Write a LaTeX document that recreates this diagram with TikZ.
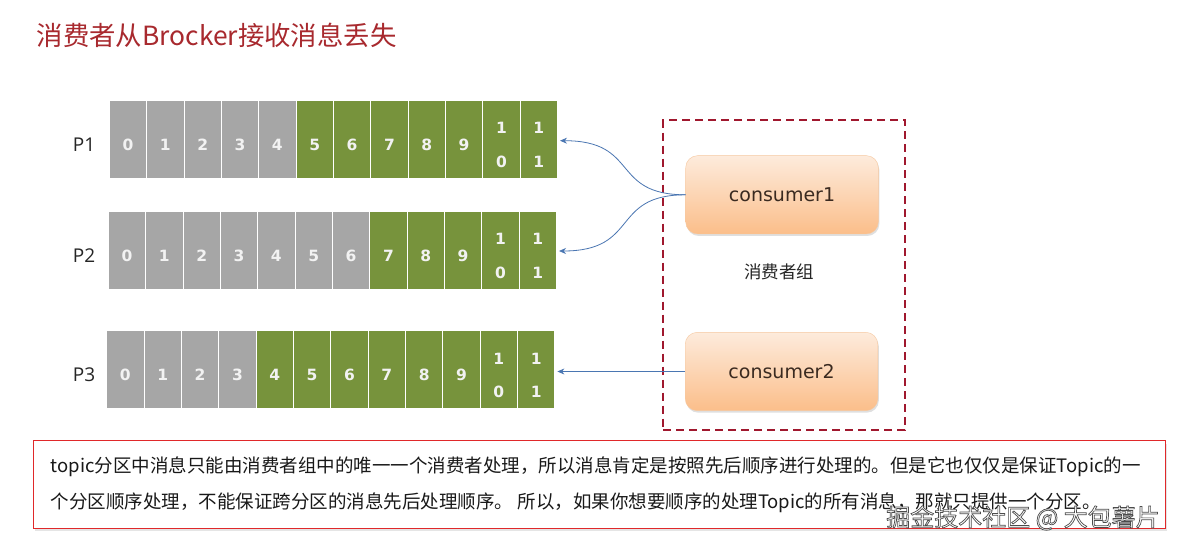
\documentclass[tikz,border=0pt]{standalone}
\usepackage{fontspec}
\setmainfont{Open Sans}
\newfontfamily\cjk{Noto Sans CJK SC}
\newfontfamily\dejavu{DejaVu Sans}
\usetikzlibrary{shadows,arrows.meta}

\definecolor{cellgray}{HTML}{A6A6A6}
\definecolor{cellgreen}{HTML}{77933C}
\definecolor{titlered}{HTML}{A8292E}
\definecolor{grpred}{HTML}{A0182E}
\definecolor{arrowblue}{HTML}{4A76B2}
\definecolor{boxtop}{HTML}{FDEBDC}
\definecolor{boxbot}{HTML}{FBBE8A}
\definecolor{boxline}{HTML}{F6C8A0}
\definecolor{notered}{HTML}{E0282A}
\definecolor{constext}{HTML}{3A2A20}

\begin{document}
\begin{tikzpicture}[x=1pt,y=-1pt,
  cell/.style={draw=white, line width=1pt, minimum width=37.35pt, minimum height=77.6pt, inner sep=0pt},
  oldcell/.style={cell, fill=cellgray},
  newcell/.style={cell, fill=cellgreen},
  digit/.style={inner sep=0pt, text=white!95!black, font=\dejavu\bfseries\fontsize{15.5}{15.5}\selectfont},
  plabel/.style={inner sep=0pt, font=\fontsize{19}{19}\selectfont, text=black!85},
  consumer/.style={rounded corners=12pt, draw=boxline, top color=boxtop, bottom color=boxbot,
    minimum width=192.6pt, minimum height=78.3pt, font=\dejavu\fontsize{19}{19}\selectfont,
    text=constext, drop shadow={opacity=0.25, shadow xshift=1pt, shadow yshift=-2pt}},
  link/.style={draw=arrowblue, line width=0.8pt, -{Stealth[length=7pt,width=6pt]}},
  group/.style={draw=grpred, line width=2pt, dash pattern=on 8pt off 5pt,
    minimum width=241.7pt, minimum height=310pt, inner sep=0pt},
  notebox/.style={draw=notered, line width=0.9pt, fill=white, minimum width=1131.7pt,
    minimum height=87.6pt, inner sep=0pt,
    drop shadow={opacity=0.2, shadow xshift=2pt, shadow yshift=-3pt}},
  notetext/.style={anchor=west, inner sep=0pt, text=black!90, font=\cjk\fontsize{18.5}{18.5}\selectfont},
  wm/.style={inner sep=0pt, text=white, font=\cjk\fontsize{24}{24}\selectfont},
]
\useasboundingbox (0,0) rectangle (1185,548);
\fill[white] (0,0) rectangle (1185,548);

% title
\node[anchor=west, inner sep=0pt, text=titlered, font=\cjk\fontsize{26.4}{26.4}\selectfont] (title) at (36.5,35) {消费者从Brocker接收消息丢失};

% partitions
\foreach \row/\x/\y/\g in {1/109.3/139.5/5, 2/108.3/250.5/7, 3/106.7/369.7/4} {
  \node[plabel] (p\row) at (84,\y+5.5) {P\row};
  \foreach \i in {0,...,11} {
    \ifnum\i<\g \def\st{oldcell}\else\def\st{newcell}\fi
    \node[\st] (c\row-\i) at ({\x+(\i+0.5)*37.35},\y) {};
  }
  \foreach \i in {0,...,9} {
    \node[digit] (d\row-\i) at ([yshift=-5.5pt]c\row-\i.center) {\i};
  }
  \node[digit] (d\row-10a) at ([yshift=11.2pt]c\row-10.center) {1};
  \node[digit] (d\row-10b) at ([yshift=-22.2pt]c\row-10.center) {0};
  \node[digit] (d\row-11a) at ([yshift=11.2pt]c\row-11.center) {1};
  \node[digit] (d\row-11b) at ([yshift=-22.2pt]c\row-11.center) {1};
}

% consumer group
\node[group] (grp) at (784.2,275) {};
\node[consumer] (cons1) at (782,194.8) {consumer1};
\node[consumer] (cons2) at (781.5,371.5) {consumer2};
\node[inner sep=0pt, text=black!85, font=\cjk\fontsize{17.5}{17.5}\selectfont] (grplabel) at (779,271.7) {消费者组};

% connectors
\draw[link] (cons1.west) .. controls (610,194.8) and (640,140.7) .. ([xshift=2pt]c1-11.east |- 0,140.7);
\draw[link] (cons1.west) .. controls (610,194.8) and (640,251) .. ([xshift=2pt]c2-11.east |- 0,251);
\draw[link] (cons2.west) -- ([xshift=2pt]c3-11.east |- cons2.west);

% note
\node[notebox] (note) at (599.2,484.5) {};
\node[notetext] (n1) at (50.7,467) {topic分区中消息只能由消费者组中的唯一一个消费者处理，所以消息肯定是按照先后顺序进行处理的。但是它也仅仅是保证Topic的一};
\node[notetext] (n2) at (50.7,503) {个分区顺序处理，不能保证跨分区的消息先后处理顺序。 所以，如果你想要顺序的处理Topic的所有消息，那就只提供一个分区。};

% watermark (white letters with a grey outline)
\node[wm] (wm) at (1023,518) {\special{pdf:literal direct 2 Tr 0.7 w 0.3 0.3 0.3 RG}掘金技术社区 @ 大包薯片\special{pdf:literal direct 0 Tr 0 0 0 RG}};
\end{tikzpicture}
\end{document}
